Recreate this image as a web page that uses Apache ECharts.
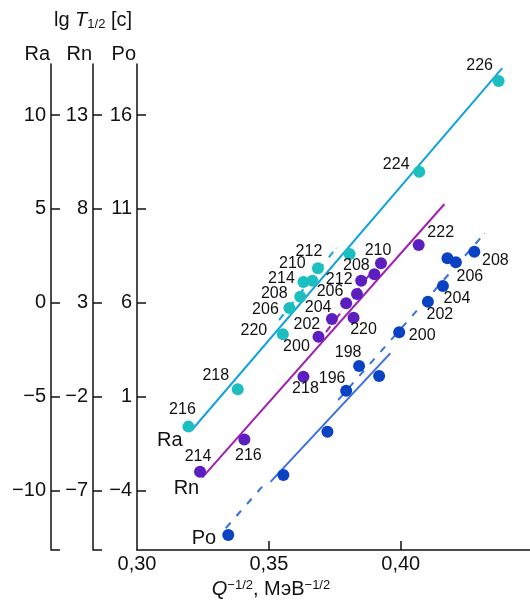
<!DOCTYPE html>
<html>
<head>
<meta charset="utf-8">
<script src="https://cdn.jsdelivr.net/npm/echarts@6/dist/echarts.min.js"></script>
<style>
html,body{margin:0;padding:0;background:#fff;}
#main{width:530px;height:606px;}
</style>
</head>
<body>
<div id="main"></div>
<script type="text/javascript">
	var FONT = "'Liberation Sans', Arial, sans-serif";

	// Ra (радий)
	var raQ    = [0.3195,0.3382,0.3553,0.3578,0.3619,0.3631,0.3665,0.3686,0.3806,0.4070,0.4371];
	var raLgT  = [-6.59,-4.60,-1.67,-0.27,0.33,1.11,1.18,1.84,2.60,6.98,11.81];
	var raMass = [216,218,220,206,208,214,210,212,null,224,226];
	var raLabelOffset = [[-6,-17],[-22,-14],[-29,-4],[-24,2],[-26,-3],[-22,-3],[-20,-17],[-9,-17],[0,0],[-23,-7],[-19,-15]];

	// Rn (радон)
	var rnQ    = [0.3239,0.3407,0.3631,0.3688,0.3739,0.3821,0.3793,0.3834,0.3850,0.3900,0.3925,0.4068];
	var rnLgT  = [-5.99,-4.27,-0.93,1.20,2.14,2.21,2.98,3.47,4.18,4.52,5.11,6.08];
	var rnMass = [214,216,218,200,202,220,204,206,212,208,210,222];
	var rnLabelOffset = [[-2,-15],[4,16],[2,12],[-22,10],[-25,6],[10,12],[-28,4],[-27,-2],[-22,-1],[-18,-9],[-3,-13],[22,-12]];

	// Po (полоний)
	var poQ    = [0.3346,0.3555,0.3722,0.3793,0.3842,0.3918,0.3994,0.4103,0.4160,0.4177,0.4209,0.4279];
	var poLgT  = [-6.36,-3.17,-0.86,1.32,2.64,2.10,4.43,6.06,6.90,8.37,8.16,8.72];
	var poMass = [null,null,null,196,198,null,200,202,204,null,206,208];
	var poLabelOffset = [[0,0],[0,0],[0,0],[-14,-12],[-11,-13],[0,0],[23,3],[12,13],[14,13],[0,0],[14,14],[21,9]];

	// прямые
	var raLineQ = [0.3208,0.4384],  raLineLgT = [-6.77,12.49];
	var raDashQ = [0.3539,0.3755],  raDashLgT = [-0.91,2.92];
	var rnLineQ = [0.3248,0.4165],  rnLineLgT = [-6.29,8.25];
	var rnDashQ = [0.3717,0.3892],  rnDashLgT = [1.45,4.70];
	var poLineQ = [0.3507,0.3960],  poLineLgT = [-3.52,3.31];
	var poDash1Q = [0.3337,0.3474], poDash1LgT = [-5.99,-3.80];
	var poDash2Q = [0.3763,0.4318], poDash2LgT = [0.83,9.70];

	// шкалы
	var raTicks = [-10,-5,0,5,10];
	var rnTicks = [-7,-2,3,8,13];
	var poTicks = [-4,1,6,11,16];
	var qTicks  = [0.30,0.35,0.40];

	var colRa = '#1cbfc0', colRaLine = '#12a2e0';
	var colRn = '#5b1fc0', colRnLine = '#a11fb2';
	var colPo = '#0a42c4', colPoLine = '#3a70e0';

	function fmtNum(v){
		var s = String(Math.round(v));
		return v < 0 ? '\u2212' + s.replace('-', '') : s;
	}

	function yAxisDef(name, offset, shift, ticks, bracket){
		var min = -13.16 + shift, max = 12.72 + shift;
		return {
			type:'value', position:'left', offset:offset, min:min, max:max,
			name:name, nameLocation:'end', nameGap:0,
			nameTextStyle:{fontSize:20, color:'#111', fontFamily:FONT, align:'right', padding:[0,1,0,0]},
			axisLine:{show:true, onZero:false, lineStyle:{color:'#111', width:1.5}},
			axisTick:{show:true, inside:true, length:9, lineStyle:{color:'#111', width:1.5},
				customValues: bracket ? ticks.concat([min]) : ticks},
			axisLabel:{show:true, fontSize:20, color:'#111', fontFamily:FONT, margin:5,
				customValues:ticks, formatter:fmtNum},
			splitLine:{show:false}
		};
	}

	function pointSeries(yIdx, qs, lgs, masses, offsets, color){
		return {
			type:'scatter', yAxisIndex:yIdx, symbolSize:12, z:5,
			itemStyle:{color:color, opacity:1},
			label:{position:'inside', fontSize:16, color:'#111', fontFamily:FONT},
			emphasis:{disabled:true},
			data: qs.map(function(q,i){
				return {
					value:[q, lgs[i]],
					label:{show: masses[i] != null, formatter: String(masses[i]), offset: offsets[i]}
				};
			})
		};
	}

	function lineSeries(yIdx, qs, lgs, color, dashed, tag, tagOffset){
		var data = qs.map(function(q,i){ return {value:[q, lgs[i]]}; });
		if(tag){
			data[0].label = {show:true, formatter:tag, offset:tagOffset, position:'inside',
				fontSize:20, color:'#111', fontFamily:FONT};
		}
		return {
			type:'line', yAxisIndex:yIdx, z:2, symbol:'circle', symbolSize:1, showSymbol:true,
			itemStyle:{color:color}, emphasis:{disabled:true},
			lineStyle:{color:color, width:2, type: dashed ? [7,9] : 'solid'},
			data:data
		};
	}

	var myChart = echarts.init(document.getElementById('main'), null, {renderer:'canvas'});

	var option = {
		animation:false,
		backgroundColor:'#fff',
		textStyle:{fontFamily:FONT},
		title:{
			left:54, top:9, padding:0,
			text:'{a|lg }{b|T}{c|1/2}{a| [c]}',
			textStyle:{
				fontWeight:'normal',
				rich:{
					a:{fontSize:20, color:'#111', fontFamily:FONT, fontWeight:'normal', lineHeight:22},
					b:{fontSize:20, color:'#111', fontFamily:FONT, fontWeight:'normal', fontStyle:'italic', lineHeight:22},
					c:{fontSize:13, color:'#111', fontFamily:FONT, fontWeight:'normal', lineHeight:12, verticalAlign:'bottom'}
				}
			}
		},
		grid:{left:137, right:0, top:64, bottom:56},
		xAxis:{
			type:'value', min:0.30, max:0.449,
			name:'{i|Q}{s|\u22121/2}{n|, МэВ}{s|\u22121/2}',
			nameLocation:'middle', nameGap:22,
			nameTextStyle:{
				padding:[0,125,0,0],
				rich:{
					i:{fontSize:20, color:'#111', fontFamily:FONT, fontStyle:'italic', lineHeight:22},
					n:{fontSize:20, color:'#111', fontFamily:FONT, lineHeight:22},
					s:{fontSize:13, color:'#111', fontFamily:FONT, lineHeight:12, verticalAlign:'top'}
				}
			},
			axisLine:{show:true, onZero:false, lineStyle:{color:'#111', width:1.5}},
			axisTick:{show:true, inside:true, length:9, lineStyle:{color:'#111', width:1.5}, customValues:[0.35,0.40]},
			axisLabel:{fontSize:20, color:'#111', fontFamily:FONT, margin:4, customValues:qTicks,
				formatter:function(v){ return v.toFixed(2).replace('.', ','); }},
			splitLine:{show:false}
		},
		yAxis:[
			yAxisDef('Ra', 86, 0, raTicks, true),
			yAxisDef('Rn', 44, 3, rnTicks, true),
			yAxisDef('Po', 0, 6, poTicks, false)
		],
		series:[
			lineSeries(0, raLineQ, raLineLgT, colRaLine, false, 'Ra', [-22,10]),
			lineSeries(0, raDashQ, raDashLgT, colRaLine, true),
			lineSeries(1, rnLineQ, rnLineLgT, colRnLine, false, 'Rn', [-16,11]),
			lineSeries(1, rnDashQ, rnDashLgT, colRnLine, true),
			lineSeries(2, poLineQ, poLineLgT, colPoLine, false),
			lineSeries(2, poDash1Q, poDash1LgT, colPoLine, true, 'Po', [-22,10]),
			lineSeries(2, poDash2Q, poDash2LgT, colPoLine, true),
			pointSeries(0, raQ, raLgT, raMass, raLabelOffset, colRa),
			pointSeries(1, rnQ, rnLgT, rnMass, rnLabelOffset, colRn),
			pointSeries(2, poQ, poLgT, poMass, poLabelOffset, colPo)
		]
	};

	myChart.setOption(option);
</script>
</body>
</html>
